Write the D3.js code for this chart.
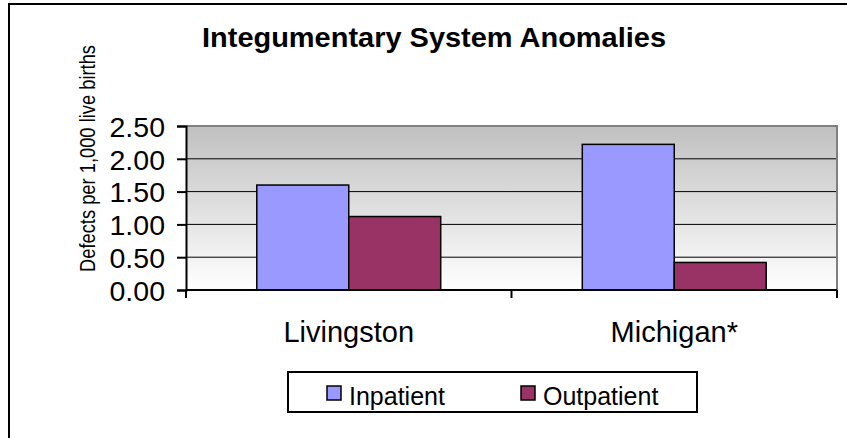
<!DOCTYPE html>
<html><head><meta charset="utf-8">
<script src="https://cdn.jsdelivr.net/npm/d3@7"></script>
<style>body{margin:0;background:#fff}svg{display:block}text{font-family:Arial,"Liberation Sans",sans-serif;fill:#000}</style>
</head><body>
<svg id="c" width="847" height="438"></svg>
<script>
const categories = ["Livingston", "Michigan*"];
const seriesNames = ["Inpatient", "Outpatient"];
const inpatient = [1.6, 2.22];
const outpatient = [1.12, 0.42];
const yTicks = [0, 0.5, 1.0, 1.5, 2.0, 2.5];
const colors = ["#9999FF", "#993366"];

const svg = d3.select("#c");
const L = 186, R = 837, T = 126, B = 290;

// outer frame
svg.append("rect").attr("x", 9).attr("y", 4).attr("width", 900).attr("height", 500)
  .attr("fill", "none").attr("stroke", "#000").attr("stroke-width", 2);

const defs = svg.append("defs");
const grad = defs.append("linearGradient").attr("id", "bg").attr("x1", 0).attr("y1", 0).attr("x2", 0).attr("y2", 1);
grad.append("stop").attr("offset", "0%").attr("stop-color", "#c0c0c0");
grad.append("stop").attr("offset", "100%").attr("stop-color", "#ffffff");

const y = d3.scaleLinear().domain([0, 2.5]).range([B, T]);
const x = d3.scaleBand().domain(categories).range([L, R]).paddingInner(0.435).paddingOuter(0.2175);
const xs = d3.scaleBand().domain(seriesNames).range([0, x.bandwidth()]);

svg.append("rect").attr("x", L).attr("y", T).attr("width", R - L).attr("height", B - T).attr("fill", "url(#bg)");

// gridlines
svg.append("g").selectAll("line").data(yTicks.filter(d => d > 0 && d < 2.5)).join("line")
  .attr("x1", L).attr("x2", R).attr("y1", d => y(d)).attr("y2", d => y(d))
  .attr("stroke", "#000").attr("stroke-width", 1);

// plot border top/right gray
svg.append("path").attr("d", `M${L},${T}H${R}V${B}`).attr("fill", "none").attr("stroke", "#808080").attr("stroke-width", 2);

// bars
const data = categories.map((c, i) => ({ c, vals: [inpatient[i], outpatient[i]] }));
const grp = svg.append("g").selectAll("g").data(data).join("g").attr("transform", d => `translate(${x(d.c)},0)`);
grp.selectAll("rect").data(d => d.vals.map((v, j) => ({ v, s: seriesNames[j], j }))).join("rect")
  .attr("x", d => xs(d.s)).attr("width", xs.bandwidth())
  .attr("y", d => y(d.v)).attr("height", d => y(0) - y(d.v))
  .attr("fill", d => colors[d.j]).attr("stroke", "#000").attr("stroke-width", 1.5);

// y axis
const yAxis = d3.axisLeft(y).tickValues(yTicks).tickFormat(d3.format(".2f")).tickSize(9).tickPadding(12);
const ya = svg.append("g").attr("transform", `translate(${L},0)`).call(yAxis);
ya.select(".domain").attr("stroke", "#000").attr("stroke-width", 2);
ya.selectAll(".tick line").attr("stroke", "#000").attr("stroke-width", 2);
ya.selectAll(".tick text").attr("font-size", 28.5).attr("font-family", "Arial, 'Liberation Sans', sans-serif").attr("fill", "#000").attr("dy", "0.36em");

// x axis
const xAxis = d3.axisBottom(x).tickSize(0).tickPadding(0);
const xa = svg.append("g").attr("transform", `translate(0,${B})`).call(xAxis);
xa.select(".domain").attr("stroke", "#000").attr("stroke-width", 2).attr("d", `M${L},0H${R}`);
xa.selectAll(".tick text").attr("font-size", 29).attr("font-family", "Arial, 'Liberation Sans', sans-serif").attr("fill", "#000").attr("dy", 0).attr("y", 52);
const bounds = [L].concat(categories.map(c => x(c) + x.bandwidth() + x.step() * x.paddingInner() / 2));
bounds[bounds.length - 1] = R;
xa.append("g").selectAll("line").data(bounds).join("line")
  .attr("x1", d => d).attr("x2", d => d).attr("y1", 0).attr("y2", 8).attr("stroke", "#000").attr("stroke-width", 2);

// title
svg.append("text").attr("x", 434).attr("y", 47).attr("text-anchor", "middle")
  .attr("font-size", 27).attr("font-weight", "bold")
  .attr("textLength", 464).attr("lengthAdjust", "spacingAndGlyphs")
  .text("Integumentary System Anomalies");

// y label
svg.append("text").attr("transform", "translate(95,158.5) rotate(-90)").attr("text-anchor", "middle")
  .attr("font-size", 22).attr("textLength", 227).attr("lengthAdjust", "spacingAndGlyphs")
  .text("Defects per 1,000 live births");

// legend
const lg = svg.append("g");
lg.append("rect").attr("x", 288).attr("y", 372).attr("width", 409).attr("height", 40)
  .attr("fill", "#fff").attr("stroke", "#000").attr("stroke-width", 2);
const legX = [327, 521];
const items = lg.selectAll("g").data(seriesNames).join("g").attr("transform", (d, i) => `translate(${legX[i]},0)`);
items.append("rect").attr("x", 0).attr("y", 386).attr("width", 14).attr("height", 14)
  .attr("fill", (d, i) => colors[i]).attr("stroke", "#000").attr("stroke-width", 1.5);
items.append("text").attr("x", 22).attr("y", 405).attr("font-size", 25).text(d => d);
</script>
</body></html>
